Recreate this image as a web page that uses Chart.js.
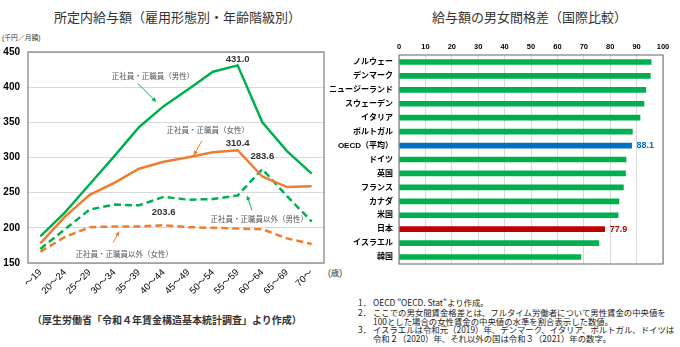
<!DOCTYPE html>
<html lang="ja">
<head>
<meta charset="utf-8">
<script src="https://cdn.jsdelivr.net/npm/chart.js@4.4.0/dist/chart.umd.min.js"></script>
<style>
  body { margin: 0; width: 680px; height: 347px; background: #fff; position: relative; overflow: hidden;
         font-family: 'Liberation Sans', 'Noto Sans CJK JP', sans-serif; }
  .t { position: absolute; white-space: nowrap; color: #333; transform: translateY(-50%); line-height: 1; }
  .title { font-size: 13px; color: #333; }
  .note { font-family: 'Noto Sans CJK JP', sans-serif; font-size: 8.4px; color: #222; }
  canvas { position: absolute; top: 0; }
</style>
</head>
<body>

<div class="t title" style="left:54px; top:17px;">所定内給与額（雇用形態別・年齢階級別）</div>
<div class="t" style="left:2px; top:38px; font-size:6.8px; color:#333;">(千円／月額)</div>
<div class="t" style="left:328px; top:273px; font-size:8.5px; color:#333;">(歳)</div>
<div class="t" style="left:32px; top:321px; font-size:10px; font-weight:bold; color:#333;">（厚生労働省「令和４年賃金構造基本統計調査」より作成）</div>

<div class="t title" style="left:432px; top:17px;">給与額の男女間格差（国際比較）</div>
<div class="t note" style="left:358px; top:302px;">1．</div>
<div class="t note" style="left:373px; top:302px;">OECD "OECD. Stat"より作成。</div>
<div class="t note" style="left:358px; top:312px;">2．</div>
<div class="t note" style="left:373px; top:312px;">ここでの男女間賃金格差とは、フルタイム労働者について男性賃金の中央値を</div>
<div class="t note" style="left:373px; top:320.5px;">100とした場合の女性賃金の中央値の水準を割合表示した数値。</div>
<div class="t note" style="left:358px; top:329px;">3．</div>
<div class="t note" style="left:373px; top:329px;">イスラエルは令和元（2019）年、デンマーク、イタリア、ポルトガル、ドイツは</div>
<div class="t note" style="left:373px; top:337.5px;">令和２（2020）年、それ以外の国は令和３（2021）年の数字。</div>

<canvas id="kyuyo" width="340" height="300" style="left:0;"></canvas>
<canvas id="kakusa" width="350" height="300" style="left:330px;"></canvas>

<script>
// 年齢階級別の所定内給与額（千円／月額）
const ageGroups = ['～19', '20～24', '25～29', '30～34', '35～39', '40～44',
                   '45～49', '50～54', '55～59', '60～64', '65～69', '70～'];
const regularMale = [188, 222, 262, 302, 343, 373, 397, 422, 431.0, 350, 309, 277];
const regularFemale = [178, 216, 247, 264, 284, 294, 300.5, 307.5, 310.4, 273, 258, 259];
const nonRegularMale = [170, 198, 226, 233, 232, 244, 240, 241, 246, 283.6, 245, 209];
const nonRegularFemale = [166, 187, 201, 202, 202, 203.6, 201, 200, 199, 198, 185, 177];
const wageTicks = [150, 200, 250, 300, 350, 400, 450];

// 男女間賃金格差（男性＝100）
const countries = ['ノルウェー', 'デンマーク', 'ニュージーランド', 'スウェーデン', 'イタリア', 'ポルトガル',
                   'OECD（平均）', 'ドイツ', '英国', 'フランス', 'カナダ', '米国', '日本', 'イスラエル', '韓国'];
const gapValues = [95.5, 95.2, 93.5, 92.8, 91.3, 88.4, 88.1, 86.0, 85.8, 85.0, 83.3, 83.0, 77.9, 75.7, 68.9];

const GREEN = '#00B050';
const ORANGE = '#ED7D31';
const BLUE = '#0070C0';
const RED = '#C00000';

Chart.defaults.font.family = "'Liberation Sans', 'Noto Sans CJK JP', sans-serif";
Chart.defaults.color = '#000';

// 枠線
const frame = {
  id: 'frame',
  afterDraw(chart) {
    const a = chart.chartArea, ctx = chart.ctx;
    ctx.save();
    ctx.strokeStyle = '#7f7f7f';
    ctx.lineWidth = 1.2;
    ctx.strokeRect(a.left, a.top, a.right - a.left, a.bottom - a.top);
    ctx.restore();
  }
};

// 系列名と矢印（位置は目盛りの値で指定）
const seriesNotes = [
  { text: '正社員・正職員（男性）', at: [4.57, 415.7], from: [3.96, 405], to: [4.7, 379], color: GREEN },
  { text: '正社員・正職員（女性）', at: [6.79, 338.6], from: [6.55, 324], to: [6.22, 303], color: ORANGE },
  { text: '正社員・正職員以外（男性）', at: [8.87, 212.9], from: [8.58, 225], to: [8.38, 246], color: GREEN },
  { text: '正社員・正職員以外（女性）', at: [3.4, 162.9], from: [2.95, 179], to: [3.2, 195], color: ORANGE }
];
const peakLabels = [
  { ds: 0, i: 8, lift: 6 },
  { ds: 1, i: 8, lift: 7 },
  { ds: 2, i: 9, lift: 12.5 },
  { ds: 3, i: 5, lift: 12.5 }
];

function arrow(ctx, x1, y1, x2, y2, color) {
  const ang = Math.atan2(y2 - y1, x2 - x1);
  ctx.strokeStyle = color;
  ctx.fillStyle = color;
  ctx.lineWidth = 1;
  ctx.beginPath();
  ctx.moveTo(x1, y1);
  ctx.lineTo(x2 - 3 * Math.cos(ang), y2 - 3 * Math.sin(ang));
  ctx.stroke();
  ctx.beginPath();
  ctx.moveTo(x2, y2);
  ctx.lineTo(x2 - 5 * Math.cos(ang - 0.45), y2 - 5 * Math.sin(ang - 0.45));
  ctx.lineTo(x2 - 5 * Math.cos(ang + 0.45), y2 - 5 * Math.sin(ang + 0.45));
  ctx.closePath();
  ctx.fill();
}

const lineNotes = {
  id: 'lineNotes',
  afterDatasetsDraw(chart) {
    const ctx = chart.ctx, sx = chart.scales.x, sy = chart.scales.y;
    ctx.save();
    ctx.textAlign = 'center';
    ctx.textBaseline = 'middle';
    ctx.font = "7.5px 'Noto Sans CJK JP', sans-serif";
    seriesNotes.forEach(n => {
      ctx.fillStyle = '#555';
      ctx.fillText(n.text, sx.getPixelForValue(n.at[0]), sy.getPixelForValue(n.at[1]));
      arrow(ctx, sx.getPixelForValue(n.from[0]), sy.getPixelForValue(n.from[1]),
            sx.getPixelForValue(n.to[0]), sy.getPixelForValue(n.to[1]), n.color);
    });
    ctx.font = "bold 9.5px 'Liberation Sans', sans-serif";
    ctx.fillStyle = '#333';
    peakLabels.forEach(p => {
      const pt = chart.getDatasetMeta(p.ds).data[p.i];
      const v = chart.data.datasets[p.ds].data[p.i];
      ctx.fillText(v.toFixed(1), pt.x, pt.y - p.lift);
    });
    ctx.restore();
  }
};

function line(data, color, dashed) {
  return {
    data: data,
    borderColor: color,
    borderWidth: 2.5,
    borderDash: dashed ? [7, 4] : [],
    pointRadius: 0,
    tension: 0,
    fill: false
  };
}

new Chart(document.getElementById('kyuyo'), {
  type: 'line',
  data: {
    labels: ageGroups,
    datasets: [
      line(regularMale, GREEN, false),
      line(regularFemale, ORANGE, false),
      line(nonRegularMale, GREEN, true),
      line(nonRegularFemale, ORANGE, true)
    ]
  },
  options: {
    responsive: false,
    animation: false,
    layout: { padding: { left: 0, right: 16, top: 52, bottom: 0 } },
    plugins: { legend: { display: false }, tooltip: { enabled: false } },
    scales: {
      x: {
        offset: true,
        grid: { display: false, drawTicks: false },
        border: { display: false },
        ticks: { autoSkip: false, maxRotation: 45, minRotation: 45, padding: 4,
                 font: { size: 9.5 }, color: '#000' },
        afterFit(s) { s.height = 37; }
      },
      y: {
        min: 150,
        max: 450,
        afterBuildTicks(s) { s.ticks = wageTicks.map(v => ({ value: v })); },
        grid: { color: '#d9d9d9', lineWidth: 1, drawTicks: false },
        border: { display: false },
        ticks: { padding: 8, font: { size: 10, weight: 'bold' }, color: '#000' },
        afterFit(s) { s.width = 28; }
      }
    }
  },
  plugins: [frame, lineNotes]
});

// OECD平均と日本だけ数値を表示
const barLabels = {
  id: 'barLabels',
  afterDatasetsDraw(chart) {
    const ctx = chart.ctx, meta = chart.getDatasetMeta(0);
    ctx.save();
    ctx.font = "bold 9px 'Liberation Sans', sans-serif";
    ctx.textAlign = 'left';
    ctx.textBaseline = 'middle';
    countries.forEach((c, i) => {
      if (c !== 'OECD（平均）' && c !== '日本') return;
      const bar = meta.data[i];
      ctx.fillStyle = c === '日本' ? RED : BLUE;
      ctx.fillText(gapValues[i].toFixed(1), bar.x + 5, bar.y);
    });
    ctx.restore();
  }
};

new Chart(document.getElementById('kakusa'), {
  type: 'bar',
  data: {
    labels: countries,
    datasets: [{
      data: gapValues,
      backgroundColor: countries.map(c => c === '日本' ? RED : (c === 'OECD（平均）' ? BLUE : GREEN)),
      barThickness: 5,
      borderWidth: 0
    }]
  },
  options: {
    indexAxis: 'y',
    responsive: false,
    animation: false,
    layout: { padding: { left: 0, right: 17, top: 0, bottom: 36 } },
    plugins: { legend: { display: false }, tooltip: { enabled: false } },
    scales: {
      x: {
        position: 'top',
        min: 0,
        max: 100,
        ticks: { stepSize: 10, padding: 4, font: { size: 7.5, weight: 'bold' }, color: '#000' },
        grid: { color: '#d9d9d9', drawTicks: false },
        border: { display: false },
        afterFit(s) { s.height = 55; }
      },
      y: {
        grid: { display: false, drawTicks: false },
        border: { display: false },
        ticks: { padding: 6, font: { size: 8, weight: 'bold' }, color: '#000' },
        afterFit(s) { s.width = 69; }
      }
    }
  },
  plugins: [frame, barLabels]
});
</script>
</body>
</html>
